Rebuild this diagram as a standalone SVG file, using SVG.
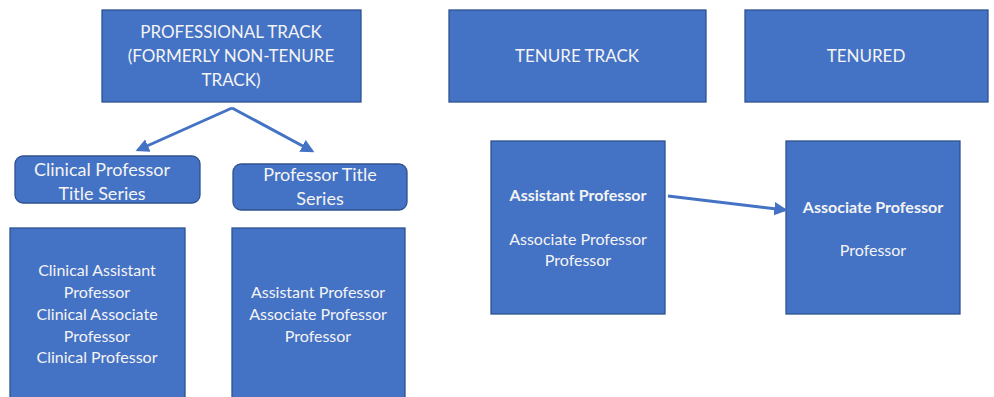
<svg xmlns="http://www.w3.org/2000/svg" width="994" height="397" viewBox="0 0 994 397">
<defs>
<style>
.box{fill:#4472C4;stroke:#2F528F;stroke-width:1.3}
.t{fill:#F4F4F4;font-family:Lato,"Liberation Sans",sans-serif;text-anchor:middle}
.h{font-size:18px}
.u{font-size:17px}
.s{font-size:16px}
.b{font-weight:bold}
.c{stroke:#4472C4;stroke-width:3;fill:none}
</style>
<marker id="ah" viewBox="0 0 10 10" refX="8" refY="5" markerWidth="4.5" markerHeight="4.5" orient="auto" markerUnits="strokeWidth">
<path d="M0,0 L10,5 L0,10 z" fill="#4472C4"/>
</marker>
</defs>
<rect width="994" height="397" fill="#fff"/>
<g id="professional-track">
<rect class="box" x="102" y="10" width="259" height="92"/>
<text class="t u" x="231" y="38">PROFESSIONAL TRACK</text>
<text class="t u" x="231" y="62">(FORMERLY NON-TENURE</text>
<text class="t u" x="231" y="86">TRACK)</text>
</g>
<g id="tenure-track">
<rect class="box" x="449" y="10" width="257" height="92"/>
<text class="t u" x="577" y="62">TENURE TRACK</text>
</g>
<g id="tenured">
<rect class="box" x="745" y="10" width="243" height="92"/>
<text class="t u" x="866" y="62">TENURED</text>
</g>
<g id="clinical-series">
<rect class="box" x="15" y="156" width="185" height="47" rx="8"/>
<text class="t h" x="102" y="176">Clinical Professor</text>
<text class="t h" x="102" y="200">Title Series</text>
</g>
<g id="professor-series">
<rect class="box" x="233" y="164" width="174" height="46" rx="8"/>
<text class="t h" x="320" y="181">Professor Title</text>
<text class="t h" x="320" y="205">Series</text>
</g>
<g id="clinical-list">
<rect class="box" x="10" y="228" width="175" height="175"/>
<text class="t s" x="97" y="276">Clinical Assistant</text>
<text class="t s" x="97" y="298">Professor</text>
<text class="t s" x="97" y="320">Clinical Associate</text>
<text class="t s" x="97" y="342">Professor</text>
<text class="t s" x="97" y="363">Clinical Professor</text>
</g>
<g id="professor-list">
<rect class="box" x="232" y="228" width="173" height="175"/>
<text class="t s" x="318" y="298">Assistant Professor</text>
<text class="t s" x="318" y="320">Associate Professor</text>
<text class="t s" x="318" y="342">Professor</text>
</g>
<g id="assistant">
<rect class="box" x="491" y="141" width="174" height="173"/>
<text class="t s b" x="578" y="201">Assistant Professor</text>
<text class="t s" x="578" y="245">Associate Professor</text>
<text class="t s" x="578" y="266">Professor</text>
</g>
<g id="associate">
<rect class="box" x="786" y="141" width="174" height="173"/>
<text class="t s b" x="873" y="213">Associate Professor</text>
<text class="t s" x="873" y="256">Professor</text>
</g>
<g id="connectors">
<path class="c" d="M232,108 L138,150" marker-end="url(#ah)"/>
<path class="c" d="M232,108 L312,151" marker-end="url(#ah)"/>
<path class="c" d="M668,196 L785,210" marker-end="url(#ah)"/>
</g>
</svg>
